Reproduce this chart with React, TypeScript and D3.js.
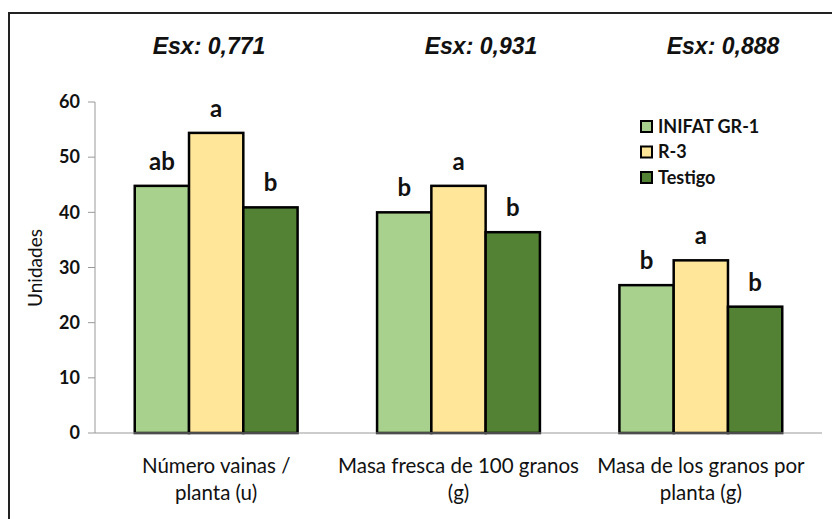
import React from "react";
import * as d3 from "d3";

const categories = ["Número vainas / planta (u)", "Masa fresca de 100 granos (g)", "Masa de los granos por planta (g)"];
const categoryLines = [["Número vainas /", "planta (u)"], ["Masa fresca de 100 granos", "(g)"], ["Masa de los granos por", "planta (g)"]];
const seriesNames = ["INIFAT GR-1", "R-3", "Testigo"];
const seriesColors = ["#a9d18e", "#ffe699", "#548235"];
const inifatValues = [44.8, 40.0, 26.8];
const r3Values = [54.4, 44.8, 31.3];
const testigoValues = [40.9, 36.4, 22.9];
const inifatLetters = ["ab", "b", "b"];
const r3Letters = ["a", "a", "a"];
const testigoLetters = ["b", "b", "b"];
const esxLabels = ["Esx: 0,771", "Esx: 0,931", "Esx: 0,888"];
const yTicks = [0, 10, 20, 30, 40, 50, 60];

const W = 832;
const H = 519;

export default function App() {
  const left = 95;
  const right = 822;
  const top = 102;
  const bottom = 433;
  const x0 = d3.scaleBand<string>().domain(categories).range([left, right]).paddingInner(0.328).paddingOuter(0.164);
  const x1 = d3.scaleBand<string>().domain(seriesNames).range([0, x0.bandwidth()]);
  const y = d3.scaleLinear().domain([0, 60]).range([bottom, top]);
  const values = [inifatValues, r3Values, testigoValues];
  const letters = [inifatLetters, r3Letters, testigoLetters];
  const esxX = [209, 481, 723];

  return (
    <svg width={W} height={H} style={{ position: "absolute", left: 0, top: 0, background: "#fff" }}>
      <rect x={0} y={0} width={W} height={H} fill="#fff" />
      <path d={`M9,${H} V13 H${W}`} fill="none" stroke="#222" strokeWidth={2} />
      {esxLabels.map((t, i) => (
        <text key={t} x={esxX[i]} y={54} textAnchor="middle" fontFamily="Liberation Sans, Arial, sans-serif" fontWeight="bold" fontStyle="italic" fontSize={23} fill="#111">
          {t}
        </text>
      ))}
      {/* y axis */}
      <line x1={left} x2={left} y1={y(60)} y2={y(0)} stroke="#999" strokeWidth={1} />
      {yTicks.map((t) => (
        <g key={t}>
          <line x1={left - 7} x2={left} y1={y(t)} y2={y(t)} stroke="#999" strokeWidth={1} />
          <text x={80} y={y(t)} dy="0.35em" textAnchor="end" fontFamily="Lato, sans-serif" fontWeight="bold" fontSize={18} fill="#111">
            {t}
          </text>
        </g>
      ))}
      <text transform={`translate(42,268) rotate(-90)`} textAnchor="middle" fontFamily="Lato, sans-serif" fontSize={19} fill="#111">
        Unidades
      </text>
      {/* bars */}
      {categories.map((c, ci) => (
        <g key={c} transform={`translate(${x0(c)},0)`}>
          {seriesNames.map((s, si) => {
            const v = values[si][ci];
            return (
              <g key={s}>
                <rect x={x1(s)} y={y(v)} width={x1.bandwidth()} height={y(0) - y(v)} fill={seriesColors[si]} stroke="#000" strokeWidth={2.5} />
                <text x={(x1(s) as number) + x1.bandwidth() / 2} y={y(v) - 16} textAnchor="middle" fontFamily="Lato, sans-serif" fontWeight="bold" fontSize={24} fill="#111">
                  {letters[si][ci]}
                </text>
              </g>
            );
          })}
        </g>
      ))}
      <line x1={left} x2={right} y1={y(0)} y2={y(0)} stroke="#999" strokeWidth={1} />
      {/* category labels */}
      {categories.map((c, ci) => (
        <text key={c} textAnchor="middle" fontFamily="Lato, sans-serif" fontSize={20.5} fill="#111">
          {categoryLines[ci].map((l, li) => (
            <tspan key={li} x={(x0(c) as number) + x0.bandwidth() / 2} y={473 + li * 27}>
              {l}
            </tspan>
          ))}
        </text>
      ))}
      {/* legend */}
      {seriesNames.map((s, si) => (
        <g key={s} transform={`translate(641,${121 + si * 25.5})`}>
          <rect x={0} y={0} width={11} height={11} fill={seriesColors[si]} stroke="#000" strokeWidth={2} />
          <text x={17} y={11.5} fontFamily="Lato, sans-serif" fontWeight="bold" fontSize={18} fill="#111">
            {s}
          </text>
        </g>
      ))}
    </svg>
  );
}
